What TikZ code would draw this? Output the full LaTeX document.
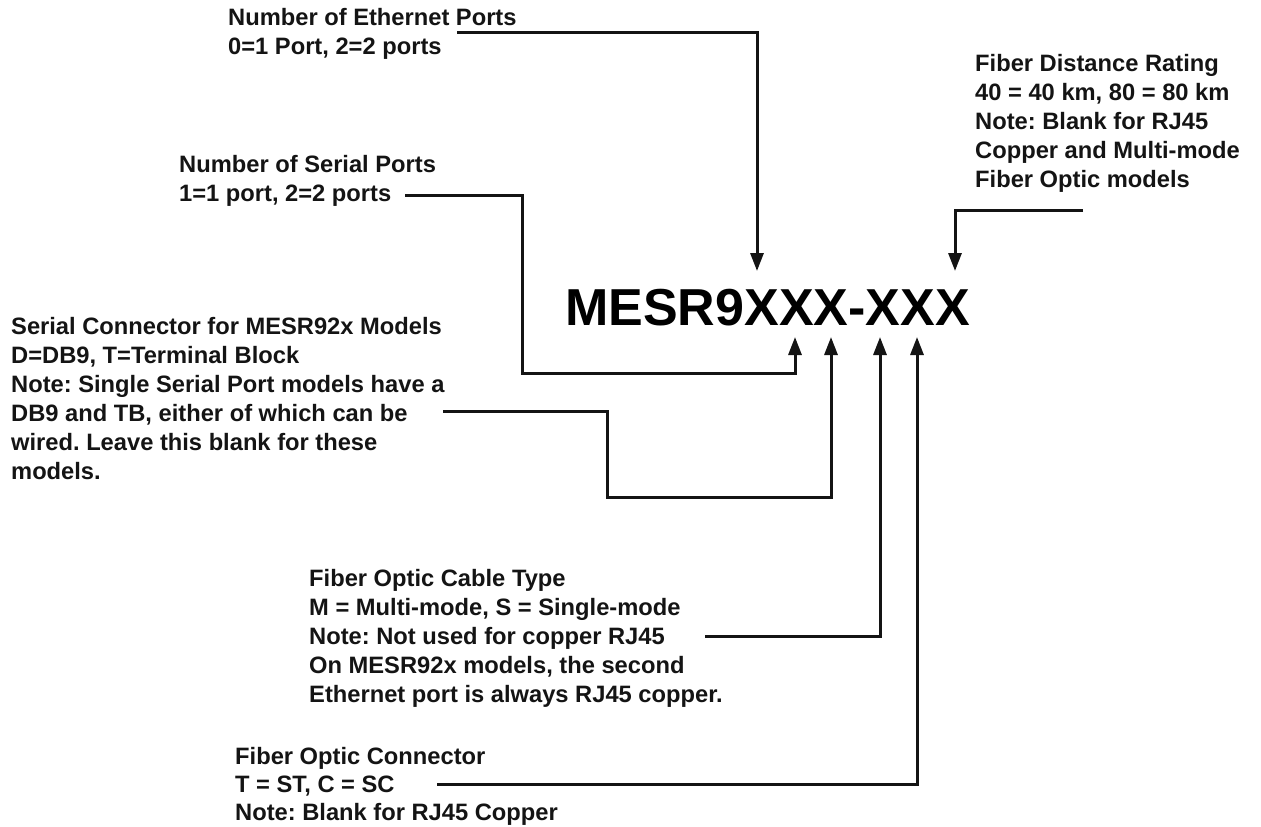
\documentclass[tikz,border=0pt]{standalone}
\usepackage{fontspec}
\setmainfont{Liberation Sans}
\usetikzlibrary{arrows.meta}
\begin{document}
\begin{tikzpicture}[x=1pt,y=-1pt,
  lbl/.style={anchor=north west,inner sep=0pt,align=left,font=\fontsize{23.7}{29}\selectfont\bfseries\frenchspacing,text=black!92},
  big/.style={anchor=base west,inner sep=0pt,font=\fontsize{52}{60}\selectfont\bfseries,text=black},
  wire/.style={line width=3pt,line join=miter,draw=black!92},
  conn/.style={wire,-{Triangle[length=18pt,width=13pt]}}]
\useasboundingbox[fill=white] (0,0) rectangle (1261,827);

% labels
\node[lbl] (eth) at (228,8) {Number of Ethernet Ports\\0=1 Port, 2=2 ports};
\node[lbl] (ser) at (179,155) {Number of Serial Ports\\1=1 port, 2=2 ports};
\node[lbl] (con) at (11,317) {Serial Connector for MESR92x Models\\D=DB9, T=Terminal Block\\Note: Single Serial Port models have a\\DB9 and TB, either of which can be\\wired. Leave this blank for these\\models.};
\node[lbl] (dist) at (975,54) {Fiber Distance Rating\\40 = 40 km, 80 = 80 km\\Note: Blank for RJ45\\Copper and Multi-mode\\Fiber Optic models};
\node[lbl] (cable) at (309,569) {Fiber Optic Cable Type\\M = Multi-mode, S = Single-mode\\Note: Not used for copper RJ45\\On MESR92x models, the second\\Ethernet port is always RJ45 copper.};
\node[lbl,font=\fontsize{23.7}{28}\selectfont\bfseries\frenchspacing] (fconn) at (235,747) {Fiber Optic Connector\\T = ST, C = SC\\Note: Blank for RJ45 Copper};

\node[big] (model) at (565,325) {MESR9XXX-XXX};

% connector points
\coordinate (e0) at (457,32);  \coordinate (e1) at (757,32);  \coordinate (e2) at (757,271);
\coordinate (s0) at (405,195); \coordinate (s1) at (522,195); \coordinate (s2) at (522,373);
\coordinate (s3) at (795,373); \coordinate (s4) at (795,337);
\coordinate (c0) at (443,411); \coordinate (c1) at (607,411); \coordinate (c2) at (607,497);
\coordinate (c3) at (831,497); \coordinate (c4) at (831,337);
\coordinate (d0) at (1083,210); \coordinate (d1) at (955,210); \coordinate (d2) at (955,271);
\coordinate (k0) at (705,636); \coordinate (k1) at (880,636); \coordinate (k2) at (880,337);
\coordinate (f0) at (437,784); \coordinate (f1) at (917,784); \coordinate (f2) at (917,337);

\draw[conn] (e0) -- (e1) -- (e2);
\draw[conn] (s0) -- (s1) -- (s2) -- (s3) -- (s4);
\draw[conn] (c0) -- (c1) -- (c2) -- (c3) -- (c4);
\draw[conn] (d0) -- (d1) -- (d2);
\draw[conn] (k0) -- (k1) -- (k2);
\draw[conn] (f0) -- (f1) -- (f2);
\end{tikzpicture}
\end{document}
